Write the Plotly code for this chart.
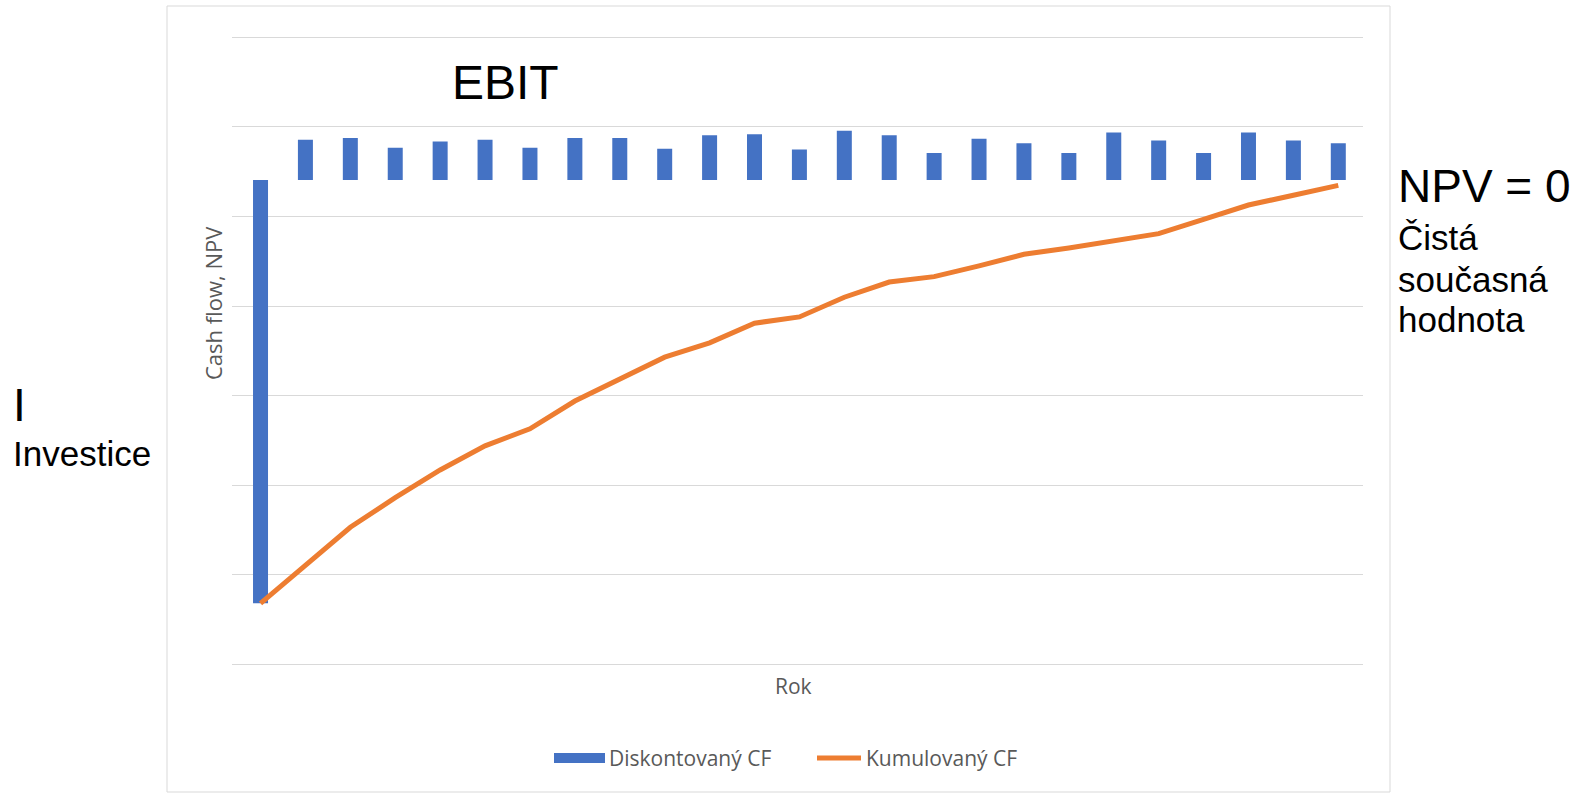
import plotly.graph_objects as go

# Roky projektu (rok 0 = investice)
roky = [0, 1, 2, 3, 4, 5, 6, 7, 8, 9, 10, 11, 12, 13, 14, 15, 16, 17, 18, 19, 20, 21, 22, 23, 24]

# Diskontované cash flow v jednotlivých letech
diskontovany_cf = [-473, 45, 47, 36, 43, 45, 36, 47, 47, 35, 50, 51, 34, 55, 50, 30,
                   46, 41, 30, 53, 44, 30, 53, 44, 41]

# Kumulované cash flow (NPV v čase)
kumulovany_cf = [-473, -430, -388, -355, -324, -297, -278, -247, -223, -198, -182, -160,
                 -153, -131, -114, -108, -96, -83, -76, -68, -60, -44, -28, -17, -6]

W, H = 1588, 793
BLUE = "#4472C4"
ORANGE = "#ED7D31"
GRID = "#D9D9D9"
GRAY_TXT = "#595959"
TXT_FONT = "Open Sans, DejaVu Sans, sans-serif"
ARIAL = "Liberation Sans, Arial, sans-serif"


def px(x):
    return x / W


def py(y):
    return (H - y) / H


fig = go.Figure()

fig.add_trace(go.Bar(
    x=roky, y=diskontovany_cf, name="Diskontovaný CF",
    marker=dict(color=BLUE, line=dict(width=0)),
    width=0.334, showlegend=False,
))

fig.add_trace(go.Scatter(
    x=roky, y=kumulovany_cf, name="Kumulovaný CF", mode="lines",
    line=dict(color=ORANGE, width=5, shape="linear"),
    showlegend=False,
))

# Rámeček grafu a vzorky legendy
shapes = [
    dict(type="rect", xref="paper", yref="paper",
         x0=px(167), x1=px(1390), y0=py(792), y1=py(6),
         line=dict(color=GRID, width=1), fillcolor="rgba(0,0,0,0)", layer="below"),
    dict(type="rect", xref="paper", yref="paper",
         x0=px(554), x1=px(605), y0=py(763), y1=py(753),
         line=dict(width=0), fillcolor=BLUE),
    dict(type="line", xref="paper", yref="paper",
         x0=px(817), x1=px(861), y0=py(758), y1=py(758),
         line=dict(color=ORANGE, width=5)),
]


def note(text, x, y, size, family=ARIAL, color="black", anchor="left", angle=0):
    return dict(text=text, x=px(x), y=py(y), xref="paper", yref="paper",
                showarrow=False, xanchor=anchor, yanchor="middle", textangle=angle,
                font=dict(family=family, size=size, color=color))


annotations = [
    # Popisky os
    note("Rok", 793, 686, 21, TXT_FONT, GRAY_TXT, "center"),
    note("Cash flow, NPV", 213, 303, 22, TXT_FONT, GRAY_TXT, "center", -90),
    # Legenda
    note("Diskontovaný CF", 607, 758, 21, TXT_FONT, GRAY_TXT),
    note("Kumulovaný CF", 864, 758, 21, TXT_FONT, GRAY_TXT),
    # Popisky schématu
    note("EBIT", 450, 82, 48),
    note("NPV = 0", 1396, 186, 46),
    note("Čistá", 1396, 237, 35),
    note("současná", 1396, 279, 35),
    note("hodnota", 1396, 319, 35),
    note("I", 11, 405, 46),
    note("Investice", 11, 454, 35),
]

fig.update_layout(
    width=W, height=H, autosize=False,
    margin=dict(l=0, r=0, t=0, b=0, pad=0),
    paper_bgcolor="white", plot_bgcolor="white",
    shapes=shapes,
    annotations=annotations,
    xaxis=dict(
        domain=[px(232), px(1363)],
        range=[-0.635, 24.55],
        showgrid=False, zeroline=False, showline=False,
        showticklabels=False, ticks="",
    ),
    yaxis=dict(
        domain=[py(668.5), py(33.0)],
        range=[-545.8, 164.2],
        tick0=-540.8, dtick=100, tickmode="linear",
        showgrid=True, gridcolor=GRID, gridwidth=1,
        zeroline=False, showline=False,
        showticklabels=False, ticks="",
    ),
)

fig.write_html("out.html")
